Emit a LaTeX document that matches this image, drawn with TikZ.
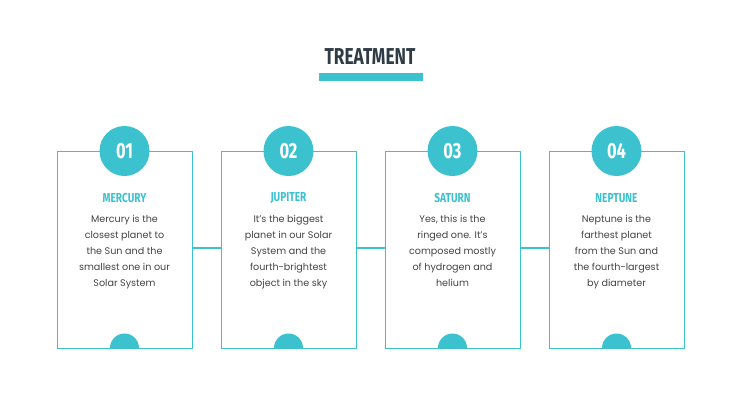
\documentclass[tikz,border=0pt]{standalone}
\usepackage{fontspec}
\setmainfont{Poppins}
\newfontfamily\headfont{Fira Sans}
\definecolor{teal}{HTML}{3CC2CF}
\definecolor{ink}{HTML}{434343}
\definecolor{dark}{HTML}{2F3B45}
\begin{document}
\begin{tikzpicture}[x=1pt,y=-1pt,
  card/.style={draw=teal,line width=1.4pt,minimum width=135pt,minimum height=197pt,anchor=north west},
  num/.style={circle,fill=teal,minimum size=50pt,inner sep=0pt,text=white,font=\headfont\bfseries\fontsize{22}{22}\selectfont\addfontfeature{FakeStretch=0.75}},
  head/.style={text=teal,font=\headfont\bfseries\fontsize{13}{13}\selectfont\addfontfeature{FakeStretch=0.78}},
  body/.style={text=ink,align=center,font=\fontsize{9.6}{16}\selectfont},
  link/.style={draw=teal,line width=1.4pt}]
\useasboundingbox (0,0) rectangle (740,416);
\node[text=dark,font=\headfont\bfseries\fontsize{23}{23}\selectfont\addfontfeature{FakeStretch=0.75}] (title) at (370,57) {TREATMENT};
\fill[teal] (319,73) rectangle (423,81);
\foreach \i/\x/\n/\h/\t in {1/57/01/MERCURY/{Mercury is the\\closest planet to\\the Sun and the\\smallest one in our\\Solar System},
  2/221/02/JUPITER/{It’s the biggest\\planet in our Solar\\System and the\\fourth-brightest\\object in the sky},
  3/385/03/SATURN/{Yes, this is the\\ringed one. It’s\\composed mostly\\of hydrogen and\\helium},
  4/549/04/NEPTUNE/{Neptune is the\\farthest planet\\from the Sun and\\the fourth-largest\\by diameter}}{
  \node[card] (c\i) at (\x,151) {};
  \begin{scope}
    \clip (\x,151) rectangle +(135,197);
    \fill[teal] (\x+67.5,348) circle (14.5);
  \end{scope}
  \node[num] (n\i) at (\x+67.5,151) {\n};
  \node[head] (h\i) at (\x+67.5,198) {\h};
  \node[body,anchor=north] (b\i) at (\x+67.5,212) {\t};
}
\draw[link] (c1.east |- 0,248) -- (c2.west |- 0,248);
\draw[link] (c2.east |- 0,248) -- (c3.west |- 0,248);
\draw[link] (c3.east |- 0,248) -- (c4.west |- 0,248);
\end{tikzpicture}
\end{document}
